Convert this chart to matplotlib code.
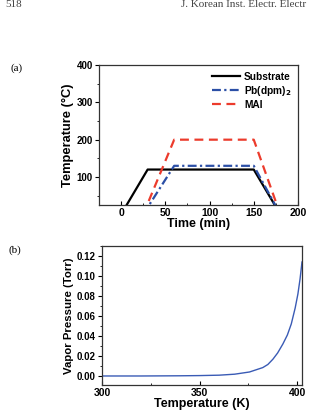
import matplotlib
matplotlib.use('Agg')
from matplotlib import pyplot as plt
from matplotlib.ticker import MultipleLocator

# (a) temperature profiles
sub_t = [0, 30, 150, 180]
sub_T = [0, 120, 120, 0]
pb_t = [25, 60, 150, 180]
pb_T = [0, 130, 130, 0]
mai_t = [25, 60, 150, 180]
mai_T = [0, 200, 200, 0]

# (b) vapor pressure curve
vp_T = [300, 320, 340, 350, 360, 368, 375.6, 382.4, 385, 387.6, 390, 392.7,
        395, 397.0, 399, 400.4, 401.5, 402.5]
vp_P = [0, 0, 0.0002, 0.0004, 0.0008, 0.0018, 0.004, 0.0084, 0.0115, 0.0168,
        0.023, 0.032, 0.041, 0.052, 0.068, 0.082, 0.097, 0.114]

plt.rcParams['font.family'] = ['Liberation Sans', 'DejaVu Sans']
plt.rcParams['font.weight'] = 'bold'
plt.rcParams['axes.labelweight'] = 'bold'
plt.rcParams['mathtext.default'] = 'bf'

fig = plt.figure(figsize=(3.35, 4.11), dpi=100)

serif = ['Liberation Serif', 'DejaVu Serif']
fig.text(0.015, 1.0, '518', family=serif, fontsize=8, weight='normal',
         va='top', color='#444444')
fig.text(0.54, 1.0, 'J. Korean Inst. Electr. Electr', family=serif,
         fontsize=8, weight='normal', va='top', color='#444444')
fig.text(0.03, 0.835, '(a)', family=serif, fontsize=8, weight='normal', va='center')
fig.text(0.025, 0.392, '(b)', family=serif, fontsize=8, weight='normal', va='center')

ax1 = fig.add_axes([0.2955, 0.5012, 0.594, 0.3406])
ax1.plot(sub_t, sub_T, color='black', lw=1.6, label='Substrate')
ax1.plot(pb_t, pb_T, color='#2b4fa6', lw=1.6, ls=(0, (4, 1.5, 1, 1.5)), label='Pb(dpm)$_2$')
ax1.plot(mai_t, mai_T, color='#ec3b2c', lw=1.6, ls=(0, (4, 2.5)), label='MAI')
ax1.set_xlim(-25, 200)
ax1.set_ylim(25, 400)
ax1.xaxis.set_major_locator(MultipleLocator(50))
ax1.xaxis.set_minor_locator(MultipleLocator(25))
ax1.yaxis.set_major_locator(MultipleLocator(100))
ax1.yaxis.set_minor_locator(MultipleLocator(50))
ax1.set_xlabel('Time (min)', fontsize=9, labelpad=0)
ax1.set_ylabel('Temperature (°C)', fontsize=9.3, labelpad=2)
ax1.legend(loc='upper right', frameon=False, fontsize=7.3, handlelength=2.8,
           handletextpad=0.35, labelspacing=0.2, borderaxespad=0.25)

ax2 = fig.add_axes([0.3045, 0.0633, 0.597, 0.3382])
ax2.plot(vp_T, vp_P, color='#3a5bb5', lw=1.0)
ax2.set_xlim(300, 402.5)
ax2.set_ylim(-0.009, 0.13)
ax2.xaxis.set_major_locator(MultipleLocator(50))
ax2.xaxis.set_minor_locator(MultipleLocator(25))
ax2.yaxis.set_major_locator(MultipleLocator(0.02))
ax2.yaxis.set_minor_locator(MultipleLocator(0.01))
ax2.yaxis.set_major_formatter(plt.FormatStrFormatter('%.2f'))
ax2.set_xlabel('Temperature (K)', fontsize=9, labelpad=0)
ax2.set_ylabel('Vapor Pressure (Torr)', fontsize=8.2, labelpad=2)

for ax in (ax1, ax2):
    for s in ax.spines.values():
        s.set_linewidth(0.9)
        s.set_color('#333333')
    ax.tick_params(axis='x', which='both', direction='in', labelsize=7.5, pad=2)
    ax.tick_params(axis='y', which='both', direction='out', labelsize=7, pad=1.5)
    ax.tick_params(which='major', length=3, width=0.8)
    ax.tick_params(which='minor', length=1.8, width=0.6)

fig.savefig('out.png', dpi=100)
